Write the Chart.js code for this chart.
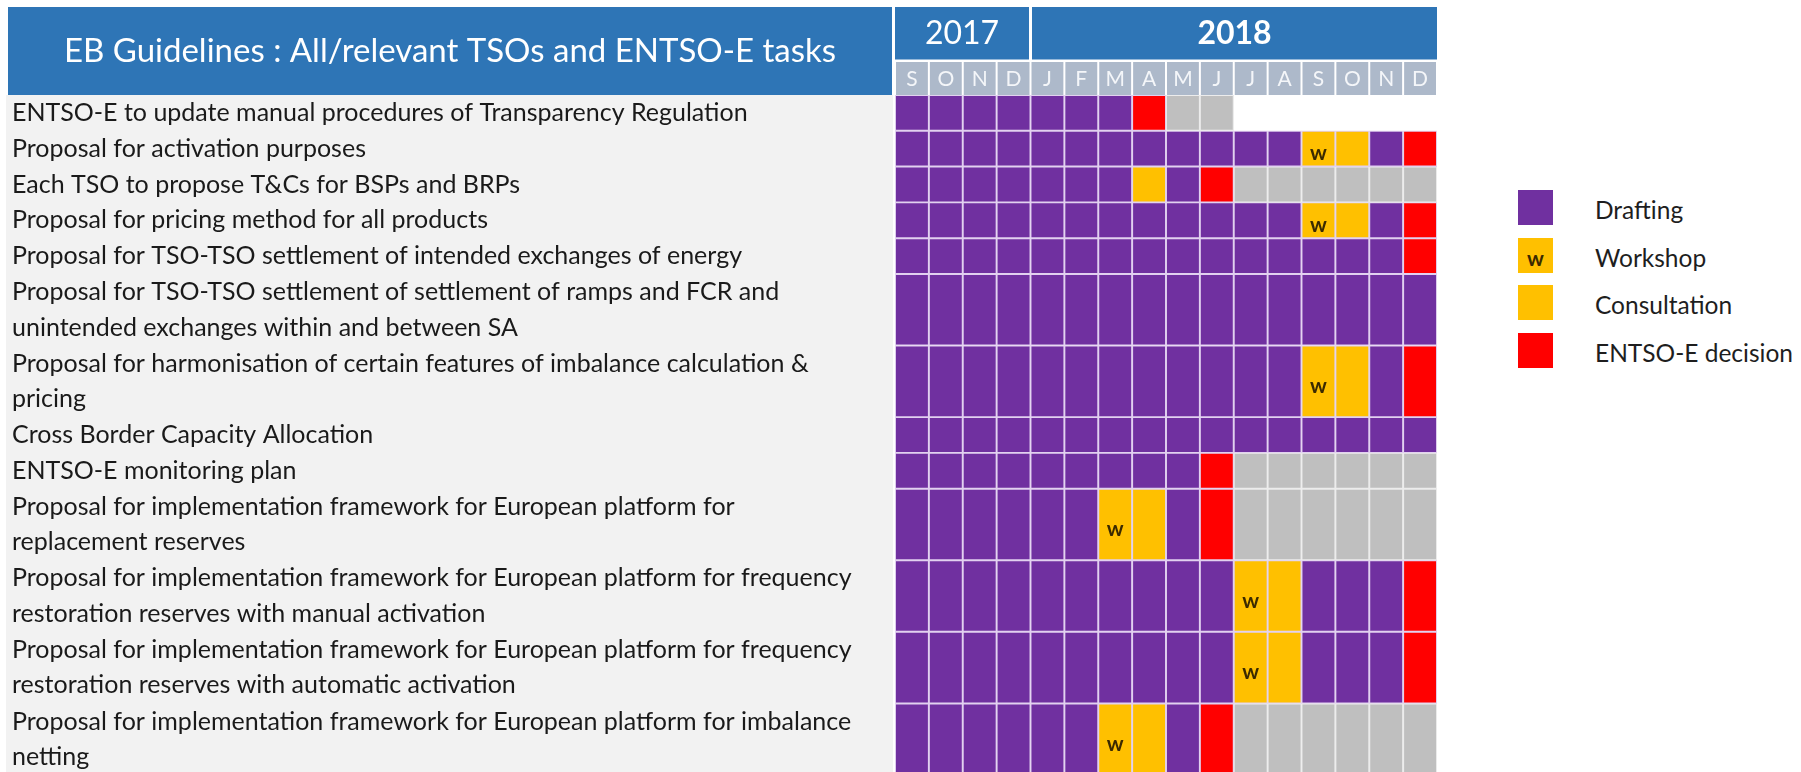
<!DOCTYPE html>
<html lang="en">
<head>
<meta charset="UTF-8">
<title>EB Guidelines : All/relevant TSOs and ENTSO-E tasks</title>
<script src="https://cdn.jsdelivr.net/npm/chart.js"></script>
<style>
    body { margin: 0; background: #fff; overflow: hidden; font-family: Lato, sans-serif; }
    #wrap { position: absolute; left: 0; top: 0; width: 1440px; height: 775px; }
    #legend { position: absolute; left: 1518px; top: 190px; }
    .item { position: relative; height: 35px; margin-bottom: 12.7px; }
    .box { position: absolute; left: 0; top: 0; width: 35px; height: 35px; text-align: center;
           font: bold 21px Lato, sans-serif; line-height: 40px; color: #3b2a00; }
    .txt { position: absolute; left: 77px; top: 2px; line-height: 35px; font-size: 24.5px; color: #1e1e1e; white-space: nowrap; }
</style>
</head>
<body>
<div id="wrap"><canvas id="plan"></canvas></div>
<div id="legend"></div>

<script>
    const months = ['S', 'O', 'N', 'D', 'J', 'F', 'M', 'A', 'M', 'J', 'J', 'A', 'S', 'O', 'N', 'D'];
    const years = ['2017', '2018'];
    const yearMonths = [4, 12];

    const tasks = [
        ['ENTSO-E to update manual procedures of Transparency Regulation'],
        ['Proposal for activation purposes'],
        ['Each TSO to propose T&Cs for BSPs and BRPs'],
        ['Proposal for pricing method for all products'],
        ['Proposal for TSO-TSO settlement of intended exchanges of energy'],
        ['Proposal for TSO-TSO settlement of settlement of ramps and FCR and', 'unintended exchanges within and between SA'],
        ['Proposal for harmonisation of certain features of imbalance calculation &', 'pricing'],
        ['Cross Border Capacity Allocation'],
        ['ENTSO-E monitoring plan'],
        ['Proposal for implementation framework for European platform for', 'replacement reserves'],
        ['Proposal for implementation framework for European platform for frequency', 'restoration reserves with manual activation'],
        ['Proposal for implementation framework for European platform for frequency', 'restoration reserves with automatic activation'],
        ['Proposal for implementation framework for European platform for imbalance', 'netting']
    ];

    // one letter per month: D drafting, W workshop, C consultation, R ENTSO-E decision, G grey, - empty
    const status = [
        'DDDDDDDRGG------',
        'DDDDDDDDDDDDWCDR',
        'DDDDDDDCDRGGGGGG',
        'DDDDDDDDDDDDWCDR',
        'DDDDDDDDDDDDDDDR',
        'DDDDDDDDDDDDDDDD',
        'DDDDDDDDDDDDWCDR',
        'DDDDDDDDDDDDDDDD',
        'DDDDDDDDDRGGGGGG',
        'DDDDDDWCDRGGGGGG',
        'DDDDDDDDDDWCDDDR',
        'DDDDDDDDDDWCDDDR',
        'DDDDDDWCDRGGGGGG'
    ];

    const legendCodes = ['D', 'W', 'C', 'R'];
    const legendNames = ['Drafting', 'Workshop', 'Consultation', 'ENTSO-E decision'];

    const fill = { D: '#7030a0', W: '#ffc000', C: '#ffc000', R: '#ff0000', G: '#bfbfbf' };

    Chart.defaults.font.family = 'Lato, sans-serif';

    // row positions in "line" units, a two-line task takes two units
    const rowStart = [];
    let total = 0;
    tasks.forEach(lines => { rowStart.push(total); total += lines.length; });
    const rowCentre = tasks.map((lines, i) => rowStart[i] + lines.length / 2);

    const datasets = tasks.map((lines, r) => {
        const codes = status[r].split('');
        return {
            label: lines.join(' '),
            data: codes.map(c => c === '-' ? null : [rowStart[r], rowStart[r] + lines.length]),
            backgroundColor: codes.map(c => fill[c] || 'transparent'),
            borderColor: codes.map(c => c === 'G' ? '#ececec' : '#e2d1f0'),
            borderWidth: 1.3,
            borderSkipped: false,
            grouped: false,
            barPercentage: 1,
            categoryPercentage: 1
        };
    });

    const tablePlugin = {
        id: 'table',
        beforeDraw(chart) {
            const { ctx, chartArea: a, scales: { x, y } } = chart;
            const colW = x.getPixelForValue(1) - x.getPixelForValue(0);
            ctx.save();
            // task column
            ctx.fillStyle = '#f2f2f2';
            ctx.fillRect(y.left - 6, a.top, a.left - 2 - (y.left - 6), a.bottom - a.top);
            // title box
            ctx.fillStyle = '#2e75b6';
            ctx.fillRect(y.left - 4, 7, a.left - 3 - (y.left - 4), a.top - 7);
            ctx.fillStyle = '#ffffff';
            ctx.font = '33px Lato, sans-serif';
            ctx.textAlign = 'center';
            ctx.textBaseline = 'middle';
            ctx.fillText('EB Guidelines : All/relevant TSOs and ENTSO-E tasks', (y.left - 4 + a.left - 3) / 2, 51);

            // year boxes
            let m = 0;
            years.forEach((yr, i) => {
                const x0 = x.getPixelForValue(m) - colW / 2 + (i > 0 ? 1.5 : 0);
                m += yearMonths[i];
                const x1 = x.getPixelForValue(m - 1) + colW / 2 - (i < years.length - 1 ? 1.5 : 0);
                ctx.fillStyle = '#2e75b6';
                ctx.fillRect(x0, 7, x1 - x0, 52.5);
                ctx.fillStyle = '#ffffff';
                ctx.font = (i === years.length - 1 ? 'bold ' : '') + '32px Lato, sans-serif';
                ctx.fillText(yr, (x0 + x1) / 2, 34);
            });

            // month cells
            ctx.fillStyle = '#adb9ca';
            months.forEach((mo, i) => {
                const cx = x.getPixelForValue(i);
                ctx.fillRect(cx - colW / 2 + 1, 62, colW - 2, a.top - 62);
            });
            ctx.restore();
        },
        afterDatasetsDraw(chart) {
            const { ctx } = chart;
            ctx.save();
            ctx.fillStyle = '#3b2a00';
            ctx.font = 'bold 21px Lato, sans-serif';
            ctx.textAlign = 'center';
            ctx.textBaseline = 'middle';
            status.forEach((row, r) => {
                const meta = chart.getDatasetMeta(r);
                row.split('').forEach((c, i) => {
                    if (c !== 'W') return;
                    const el = meta.data[i];
                    ctx.fillText('w', el.x, (el.y + el.base) / 2 + 5);
                });
            });
            ctx.restore();
        }
    };

    new Chart(document.getElementById('plan'), {
        type: 'bar',
        data: { labels: months, datasets: datasets },
        options: {
            responsive: true,
            maintainAspectRatio: false,
            animation: false,
            layout: { padding: { left: 12, right: 3, top: 0, bottom: 0 } },
            plugins: { legend: { display: false }, tooltip: { enabled: false } },
            scales: {
                x: {
                    position: 'top',
                    grid: { display: false, drawTicks: false },
                    border: { display: false },
                    ticks: { color: '#f4f6f9', font: { size: 21 }, padding: 3, maxRotation: 0, autoSkip: false },
                    afterFit: s => { s.height = 95; s.paddingLeft = 0; s.paddingRight = 0; }
                },
                y: {
                    type: 'linear',
                    reverse: true,
                    min: 0,
                    max: total,
                    stacked: false,
                    grid: { display: false, drawTicks: false },
                    border: { display: false },
                    afterBuildTicks: s => { s.ticks = rowCentre.map(v => ({ value: v })); },
                    ticks: {
                        autoSkip: false,
                        crossAlign: 'far',
                        color: '#1a1a1a',
                        font: { size: 25, lineHeight: 1.42 },
                        callback: (v, i) => tasks[i]
                    },
                    afterFit: s => { s.width = 883; s.paddingTop = 0; s.paddingBottom = 0; }
                }
            }
        },
        plugins: [tablePlugin]
    });

    // legend
    const legend = document.getElementById('legend');
    legendCodes.forEach((c, i) => {
        const item = document.createElement('div');
        item.className = 'item';
        item.innerHTML = '<div class="box" style="background:' + fill[c] + '">' + (c === 'W' ? 'w' : '') + '</div>' +
            '<div class="txt">' + legendNames[i] + '</div>';
        legend.appendChild(item);
    });
</script>
</body>
</html>
